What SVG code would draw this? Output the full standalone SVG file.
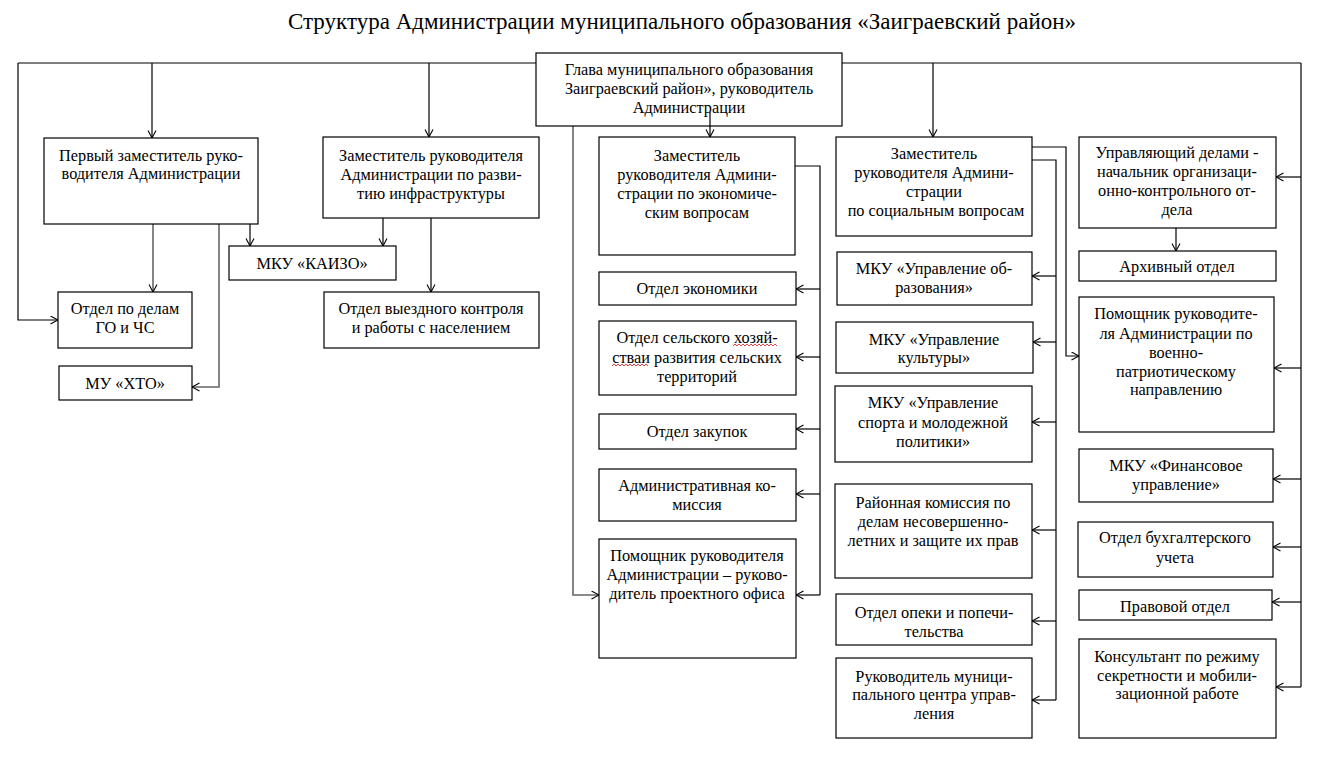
<svg xmlns="http://www.w3.org/2000/svg" width="1324" height="760" viewBox="0 0 1324 760">
<defs>
<marker id="ar" markerWidth="9" markerHeight="10" refX="8" refY="4.5" orient="auto" markerUnits="userSpaceOnUse">
<path d="M0.5,0.5 L8,4.5 L0.5,8.5" fill="none" stroke="#000" stroke-width="1.1"/>
</marker>
<style>
.b{fill:#fff;stroke:#000;stroke-width:1.2}
.t{font-family:"Liberation Serif","Times New Roman",serif;font-size:16.3px;fill:#000;text-anchor:middle}
.title{font-family:"Liberation Serif","Times New Roman",serif;font-size:23px;fill:#000;text-anchor:middle}
.c{fill:none;stroke:#000;stroke-width:1.2}
.g{fill:none;stroke:#666;stroke-width:1.6}
.a{marker-end:url(#ar)}
.sp{fill:none;stroke:#e03030;stroke-width:0.9}
</style>
</defs>
<rect width="1324" height="760" fill="#fff"/>
<text class="title" x="682" y="29">Структура Администрации муниципального образования «Заиграевский район»</text>

<g id="connectors">
<path class="c" d="M18,63 H536 M842,63 H1301"/>
<path class="c a" d="M18,63 V320 H58"/>
<path class="c a" d="M152,63 V138"/>
<path class="c a" d="M429,63 V137"/>
<path class="c a" d="M933,63 V137"/>
<path class="c a" d="M710,112 V137"/>
<path class="g a" d="M153,224 V292"/>
<path class="g a" d="M219,224 V387 H192"/>
<path class="c a" d="M250,224 V246"/>
<path class="c a" d="M383,218 V246"/>
<path class="c a" d="M431,218 V292"/>
<path class="c" d="M795,166 H820 V595"/>
<path class="c a" d="M820,289 H796"/>
<path class="c a" d="M820,357 H796"/>
<path class="c a" d="M820,429 H796"/>
<path class="c a" d="M820,494 H796"/>
<path class="c a" d="M820,595 H796"/>
<path class="g a" d="M573,126 V595 H599"/>
<path class="c" d="M1032,160 H1056 V700"/>
<path class="c a" d="M1056,276 H1032"/>
<path class="c a" d="M1056,342 H1033"/>
<path class="c a" d="M1056,422 H1032"/>
<path class="c a" d="M1056,530 H1032"/>
<path class="c a" d="M1056,621 H1032"/>
<path class="c a" d="M1056,700 H1032"/>
<path class="c a" d="M1032,147 H1066 V356 H1079"/>
<path class="c a" d="M1176,228 V251"/>
<path class="c" d="M1301,63 V687"/>
<path class="c a" d="M1301,177 H1276"/>
<path class="c a" d="M1301,368 H1274"/>
<path class="c a" d="M1301,479 H1273"/>
<path class="c a" d="M1301,547 H1273"/>
<path class="c a" d="M1301,602 H1272"/>
<path class="c a" d="M1301,687 H1276"/>
</g>

<g id="glava"><rect class="b" x="536" y="53" width="306" height="73"/>
<text class="t" x="689" y="75">Глава муниципального образования</text>
<text class="t" x="689" y="94">Заиграевский район», руководитель</text>
<text class="t" x="689" y="113">Администрации</text></g>
<path class="c" d="M710,112 V126" />

<g id="zam1"><rect class="b" x="44" y="138" width="214" height="86"/>
<text class="t" x="151" y="161">Первый заместитель руко-</text>
<text class="t" x="151" y="179">водителя Администрации</text></g>

<g id="zam_infra"><rect class="b" x="323" y="137" width="216" height="81"/>
<text class="t" x="431" y="161">Заместитель руководителя</text>
<text class="t" x="431" y="180">Администрации по разви-</text>
<text class="t" x="431" y="199">тию инфраструктуры</text></g>

<g id="kaizo"><rect class="b" x="229" y="246" width="167" height="34"/>
<text class="t" x="312" y="269">МКУ «КАИЗО»</text></g>

<g id="go"><rect class="b" x="58" y="292" width="134" height="56"/>
<text class="t" x="125" y="314">Отдел по делам</text>
<text class="t" x="125" y="333">ГО и ЧС</text></g>

<g id="hto"><rect class="b" x="59" y="366" width="133" height="34"/>
<text class="t" x="125" y="389">МУ «ХТО»</text></g>

<g id="vyezd"><rect class="b" x="324" y="292" width="215" height="56"/>
<text class="t" x="431" y="314">Отдел выездного контроля</text>
<text class="t" x="431" y="333">и работы с населением</text></g>

<g id="zam_econ"><rect class="b" x="599" y="137" width="196" height="118"/>
<text class="t" x="697" y="161">Заместитель</text>
<text class="t" x="697" y="180">руководителя Админи-</text>
<text class="t" x="697" y="199">страции по экономиче-</text>
<text class="t" x="697" y="218">ским вопросам</text></g>

<g id="ekon"><rect class="b" x="599" y="272" width="197" height="33"/>
<text class="t" x="697" y="294">Отдел экономики</text></g>

<g id="selsk"><rect class="b" x="599" y="321" width="197" height="74"/>
<text class="t" x="697" y="343">Отдел сельского  хозяй-</text>
<text class="t" x="697" y="363">стваи развития сельских</text>
<text class="t" x="697" y="382">территорий</text>
<path class="sp" d="M733,346 l2,-2 l2,2 l2,-2 l2,2 l2,-2 l2,2 l2,-2 l2,2 l2,-2 l2,2 l2,-2 l2,2 l2,-2 l2,2 l2,-2 l2,2 l2,-2 l2,2 l2,-2 l2,2 l2,-2 l2,2"/>
<path class="sp" d="M612,366 l2,-2 l2,2 l2,-2 l2,2 l2,-2 l2,2 l2,-2 l2,2 l2,-2 l2,2 l2,-2 l2,2 l2,-2 l2,2 l2,-2 l2,2 l2,-2 l2,2"/></g>

<g id="zakup"><rect class="b" x="599" y="414" width="197" height="35"/>
<text class="t" x="697" y="437">Отдел закупок</text></g>

<g id="admkom"><rect class="b" x="599" y="469" width="197" height="52"/>
<text class="t" x="697" y="491">Административная ко-</text>
<text class="t" x="697" y="510">миссия</text></g>

<g id="pomosh_proj"><rect class="b" x="599" y="539" width="197" height="119"/>
<text class="t" x="697" y="561">Помощник руководителя</text>
<text class="t" x="697" y="580">Администрации – руково-</text>
<text class="t" x="697" y="599">дитель проектного офиса</text></g>

<g id="zam_soc"><rect class="b" x="836" y="137" width="196" height="99"/>
<text class="t" x="934" y="159">Заместитель</text>
<text class="t" x="934" y="178">руководителя Админи-</text>
<text class="t" x="934" y="197">страции</text>
<text class="t" x="936" y="216">по социальным вопросам</text></g>

<g id="obraz"><rect class="b" x="837" y="252" width="195" height="53"/>
<text class="t" x="934" y="274">МКУ «Управление об-</text>
<text class="t" x="934" y="293">разования»</text></g>

<g id="kult"><rect class="b" x="836" y="322" width="197" height="51"/>
<text class="t" x="934" y="345">МКУ «Управление</text>
<text class="t" x="934" y="363">культуры»</text></g>

<g id="sport"><rect class="b" x="835" y="386" width="197" height="76"/>
<text class="t" x="933" y="408">МКУ «Управление</text>
<text class="t" x="933" y="428">спорта и молодежной</text>
<text class="t" x="933" y="447">политики»</text></g>

<g id="raion_kom"><rect class="b" x="835" y="484" width="197" height="94"/>
<text class="t" x="933" y="508">Районная комиссия по</text>
<text class="t" x="933" y="527">делам несовершенно-</text>
<text class="t" x="933" y="546">летних и защите их прав</text></g>

<g id="opeka"><rect class="b" x="836" y="594" width="196" height="51"/>
<text class="t" x="934" y="618">Отдел опеки и попечи-</text>
<text class="t" x="934" y="637">тельства</text></g>

<g id="mcu"><rect class="b" x="836" y="658" width="196" height="80"/>
<text class="t" x="934" y="682">Руководитель муници-</text>
<text class="t" x="934" y="700">пального центра управ-</text>
<text class="t" x="934" y="719">ления</text></g>

<g id="upr_del"><rect class="b" x="1079" y="137" width="197" height="91"/>
<text class="t" x="1177" y="158">Управляющий делами -</text>
<text class="t" x="1177" y="177">начальник организаци-</text>
<text class="t" x="1177" y="196">онно-контрольного от-</text>
<text class="t" x="1177" y="215">дела</text></g>

<g id="arhiv"><rect class="b" x="1079" y="251" width="197" height="30"/>
<text class="t" x="1177" y="272">Архивный отдел</text></g>

<g id="pomosh_voen"><rect class="b" x="1079" y="297" width="195" height="135"/>
<text class="t" x="1176" y="319">Помощник руководите-</text>
<text class="t" x="1176" y="339">ля Администрации по</text>
<text class="t" x="1176" y="358">военно-</text>
<text class="t" x="1176" y="377">патриотическому</text>
<text class="t" x="1176" y="395">направлению</text></g>

<g id="fin"><rect class="b" x="1079" y="449" width="194" height="53"/>
<text class="t" x="1176" y="471">МКУ «Финансовое</text>
<text class="t" x="1176" y="490">управление»</text></g>

<g id="buh"><rect class="b" x="1078" y="522" width="195" height="55"/>
<text class="t" x="1175" y="543">Отдел бухгалтерского</text>
<text class="t" x="1175" y="563">учета</text></g>

<g id="pravo"><rect class="b" x="1079" y="590" width="193" height="30"/>
<text class="t" x="1175" y="612">Правовой отдел</text></g>

<g id="konsult"><rect class="b" x="1079" y="639" width="197" height="99"/>
<text class="t" x="1177" y="662">Консультант по режиму</text>
<text class="t" x="1177" y="681">секретности и мобили-</text>
<text class="t" x="1177" y="699">зационной работе</text></g>
</svg>
